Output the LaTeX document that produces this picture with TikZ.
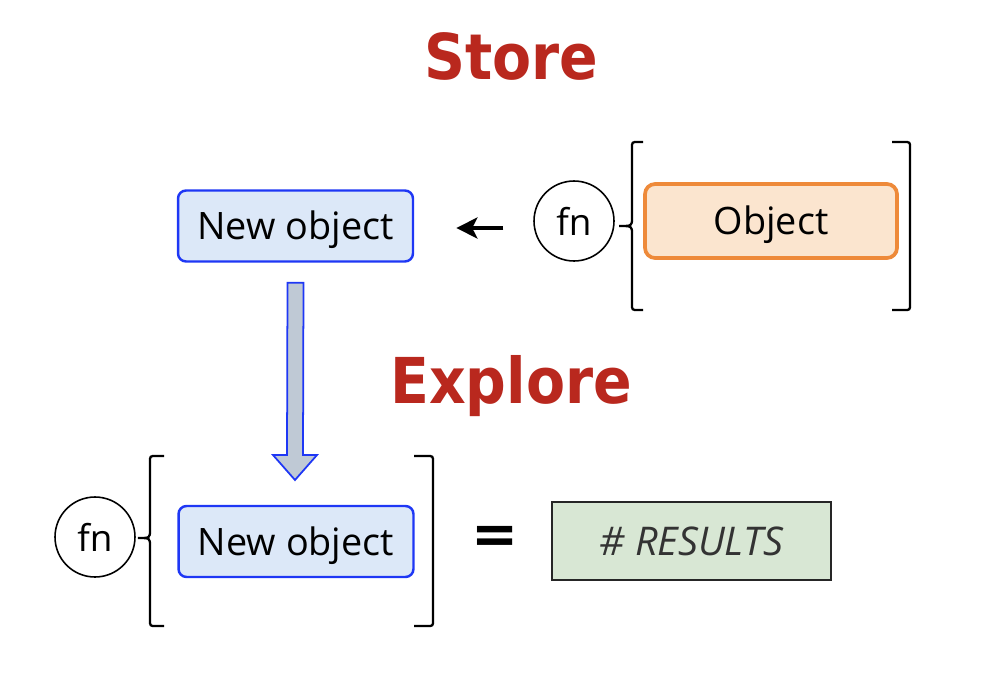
\documentclass[tikz,border=0pt]{standalone}
\usepackage{fontspec}
\setmainfont{Open Sans}
\newfontfamily\titlefont{DejaVu Sans Condensed}
\newfontfamily\eqfont{DejaVu Sans}
\usetikzlibrary{positioning}
\usetikzlibrary{arrows.meta}
\usetikzlibrary{calc}

\definecolor{titlered}{RGB}{185,40,30}
\definecolor{boxblue}{RGB}{30,55,245}
\definecolor{fillblue}{RGB}{220,232,248}
\definecolor{boxorange}{RGB}{238,138,58}
\definecolor{fillorange}{RGB}{251,229,207}
\definecolor{fillgreen}{RGB}{216,231,212}
\definecolor{arrowgray}{RGB}{191,201,213}
\definecolor{textgray}{RGB}{51,51,51}

\tikzset{
    titletext/.style={font=\titlefont\bfseries\fontsize{36}{40}\selectfont, text=titlered, anchor=base, inner sep=0pt},
    newbox/.style={text height=15.4pt, text depth=0pt, draw=boxblue, fill=fillblue, line width=1.4pt, rounded corners=0.16cm, minimum width=4.7cm, minimum height=1.42cm, font=\fontsize{21.5}{24}\selectfont},
    objbox/.style={text height=15.4pt, text depth=0pt, draw=boxorange, fill=fillorange, line width=2.1pt, rounded corners=0.2cm, minimum width=5.04cm, minimum height=1.48cm, font=\fontsize{21.5}{24}\selectfont},
    fncircle/.style={draw, circle, line width=0.9pt, minimum size=1.6cm, inner sep=0pt, font=\fontsize{21}{24}\selectfont},
    resbox/.style={text height=16pt, text depth=0pt, draw=black!85, fill=fillgreen, line width=1pt, minimum width=5.58cm, minimum height=1.56cm, text=textgray, font=\itshape\fontsize{22.5}{26}\selectfont},
    bracket/.style={line width=1.3pt},
    blockarrow/.style={draw=boxblue, fill=arrowgray, line width=1pt, line join=miter}
}

\begin{document}
\begin{tikzpicture}[x=0.02cm, y=-0.02cm]
    \useasboundingbox (0,0) rectangle (1000,676);

    % titles
    \node[titletext] (store) at (511,79) {Store};
    \node[titletext] (explore) at (511,403) {Explore};

    % store row
    \node[newbox] (newtop) at (295.5,226) {New object};
    \node[fncircle] (fntop) at (574,221) {fn};
    \node[objbox] (obj) at (771,221) {Object};
    \draw[bracket] (643,142) -- (638,142) .. controls (632,142) .. (632,148) -- (632,218) .. controls (632,226) .. (619,226) .. controls (632,226) .. (632,234) -- (632,304) .. controls (632,310) .. (638,310) -- (643,310);
    \draw[bracket] (892,142) -- (904,142) .. controls (910,142) .. (910,148) -- (910,304) .. controls (910,310) .. (904,310) -- (892,310);
    \draw[line width=2pt, -{Stealth[length=12pt, width=12pt, inset=3pt]}, shorten <=17pt, shorten >=24pt] (fntop.west |- 0,228) -- (newtop.east |- 0,228);

    % down arrow
    \coordinate (dstart) at ($(newtop.south)+(0,20)$);
    \coordinate (dend) at (295,480);
    \draw[blockarrow] ($(dstart)+(-8,0)$) -- ++(16,0) -- ($(dend)+(8,-25)$) -- ++(14,0) -- (dend) -- ++(-22,-25) -- ++(14,0) -- cycle;

    % explore row
    \node[fncircle] (fnbot) at (95,537) {fn};
    \node[newbox] (newbot) at (296,541.5) {New object};
    \draw[bracket] (164,456) -- (156,456) .. controls (150,456) .. (150,462) -- (150,530) .. controls (150,538) .. (138,538) .. controls (150,538) .. (150,546) -- (150,620) .. controls (150,626) .. (156,626) -- (164,626);
    \draw[bracket] (414,456) -- (427,456) .. controls (433,456) .. (433,462) -- (433,620) .. controls (433,626) .. (427,626) -- (414,626);
    \node[font=\eqfont\bfseries\fontsize{32}{36}\selectfont, inner sep=0pt] (equal) at (495,540) {=};
    \node[resbox] (result) at (691.5,541) {\# RESULTS};
\end{tikzpicture}
\end{document}
